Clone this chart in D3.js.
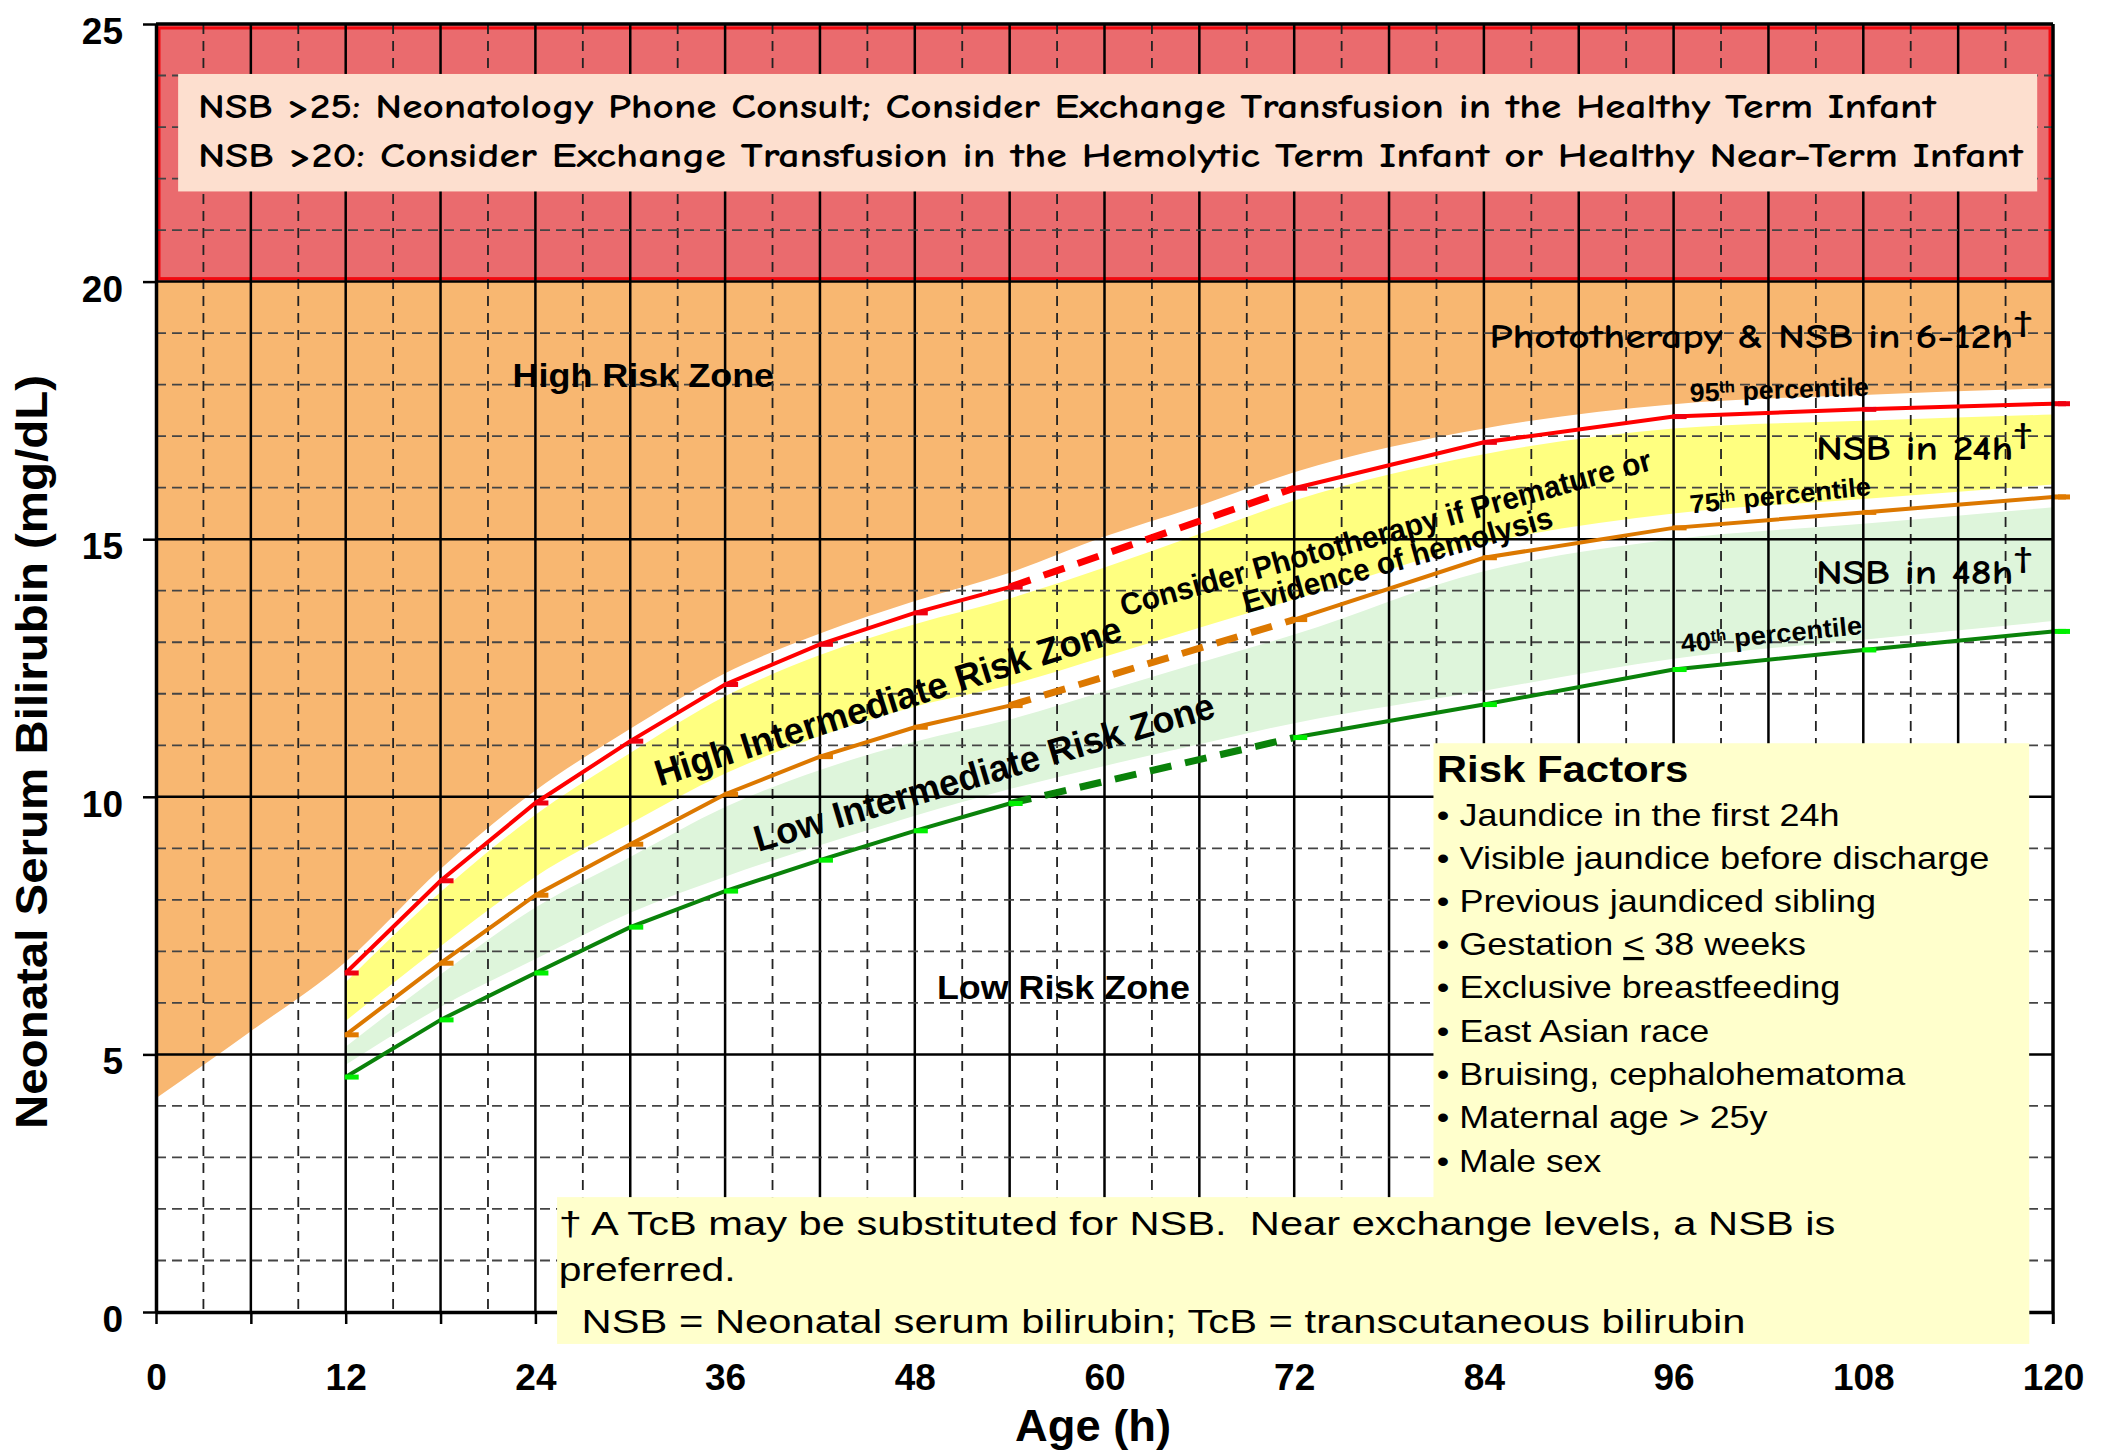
<!DOCTYPE html>
<html><head><meta charset="utf-8">
<script src="https://cdn.jsdelivr.net/npm/d3@7"></script>
<style>body{margin:0;background:#fff;}svg{display:block}text{white-space:pre}</style>
</head><body><svg id="c" width="2101" height="1453"></svg>
<script>
// ---- percentile curves (age in hours, bilirubin mg/dL) ----
const hours = [12,18,24,30,36,42,48,54,72,84,96,108,120];
const p95 = [6.58,8.37,9.88,11.08,12.18,12.96,13.57,14.07,15.99,16.88,17.38,17.52,17.63];
const p75 = [5.38,6.77,8.09,9.08,10.05,10.78,11.35,11.77,13.44,14.64,15.22,15.52,15.82];
const p40 = [4.56,5.67,6.58,7.47,8.17,8.77,9.34,9.87,11.15,11.79,12.47,12.85,13.21];
const dashedFrom = 54, dashedTo = 72;

// ---- zone boundaries ----
const hrHours  = [0,6,12,18,24,30,36,42,48,54,60,66,72,84,96,108,120];
const hrLower  = [4.15,5.45,6.8,8.6,10.12,11.32,12.4,13.17,13.8,14.35,15.05,15.65,16.3,17.15,17.62,17.8,17.93];
const zoneHours   = [12,18,24,30,36,42,48,54,60,66,72,84,96,108,120];
const yellowTop   = [6.4,8.15,9.65,10.85,11.95,12.75,13.35,13.85,14.45,15.1,15.75,16.65,17.15,17.3,17.42];
const yellowBot   = [5.65,7.1,8.45,9.48,10.45,11.18,11.75,12.17,12.72,13.28,13.83,14.92,15.5,15.78,16.06];
const greenTop    = [5.15,6.55,7.85,8.83,9.8,10.52,11.07,11.5,12.05,12.6,13.15,14.38,15.0,15.3,15.62];
const greenBot    = [4.8,5.92,6.85,7.75,8.45,9.06,9.63,10.15,10.6,11.02,11.43,12.06,12.68,13.05,13.41];
const exchangeLow = 20, exchangeHigh = 25;

// ---- ticks ----
const xTicks = [0,12,24,36,48,60,72,84,96,108,120];
const yTicks = [0,5,10,15,20,25];

// ---- texts ----
const topNotes = ["NSB >25: Neonatology Phone Consult; Consider Exchange Transfusion in the Healthy Term Infant",
                  "NSB >20: Consider Exchange Transfusion in the Hemolytic Term Infant or Healthy Near-Term Infant"];
const riskTitle = "Risk Factors";
const riskFactors = ["Jaundice in the first 24h","Visible jaundice before discharge","Previous jaundiced sibling",
  "Gestation < 38 weeks","Exclusive breastfeeding","East Asian race","Bruising, cephalohematoma","Maternal age > 25y","Male sex"];
const footnotes = ["† A TcB may be substituted for NSB.  Near exchange levels, a NSB is","preferred.",
  "NSB = Neonatal serum bilirubin; TcB = transcutaneous bilirubin"];

const svg = d3.select('#c');
const x = d3.scaleLinear().domain([0,120]).range([156,2053]);
const y = d3.scaleLinear().domain([0,25]).range([1312,24]);
const ARIAL = '"Liberation Sans", Arial, Helvetica, sans-serif';
const COMIC = '"Comic Sans MS", "Comic Neue", Lato, "Open Sans", sans-serif';

// zones
const gZ = svg.append('g');
gZ.append('rect').attr('x',x(0)).attr('y',y(exchangeHigh)).attr('width',x(120)-x(0)).attr('height',y(exchangeLow)-y(exchangeHigh))
  .attr('fill','#EA6B6E');
gZ.append('rect').attr('x',x(0)+3).attr('y',y(exchangeHigh)+4).attr('width',x(120)-x(0)-6).attr('height',y(exchangeLow)-y(exchangeHigh)-7)
  .attr('fill','none').attr('stroke','#F20A10').attr('stroke-width',3);
const hrData = hrHours.map((h,i)=>({h,v:hrLower[i]}));
gZ.append('path').datum(hrData).attr('fill','#F8B771')
  .attr('d', d3.area().x(d=>x(d.h)).y0(y(exchangeLow)).y1(d=>y(d.v)).curve(d3.curveMonotoneX));
const zoneData = (top,bot)=>zoneHours.map((h,i)=>({h,t:top[i],b:bot[i]}));
gZ.append('path').datum(zoneData(yellowTop,yellowBot)).attr('fill','#FFFF80')
  .attr('d', d3.area().x(d=>x(d.h)).y0(d=>y(d.b)).y1(d=>y(d.t)).curve(d3.curveMonotoneX));
gZ.append('path').datum(zoneData(greenTop,greenBot)).attr('fill','#DEF5DB')
  .attr('d', d3.area().x(d=>x(d.h)).y0(d=>y(d.b)).y1(d=>y(d.t)).curve(d3.curveMonotoneX));

// grid
const gG = svg.append('g');
d3.range(3,120,3).forEach(h=>{
  const solid = h%6===0;
  gG.append('line').attr('x1',x(h)).attr('x2',x(h)).attr('y1',y(25)).attr('y2',y(0))
    .attr('stroke', solid?'#000':'#222').attr('stroke-width', solid?2.5:1.8)
    .attr('stroke-dasharray', solid?null:'10,7');
});
d3.range(1,25,1).forEach(v=>{
  const solid = v%5===0;
  gG.append('line').attr('x1',x(0)).attr('x2',x(120)).attr('y1',y(v)).attr('y2',y(v))
    .attr('stroke', solid?'#000':'#444').attr('stroke-width', solid?2.5:1.8)
    .attr('stroke-dasharray', solid?null:'10,6');
});

// percentile lines
const series = [
  {vals:p95, color:'#FF0000', mark:'#F00010'},
  {vals:p75, color:'#DC7800', mark:'#E07A00'},
  {vals:p40, color:'#0A820A', mark:'#00F000'}];
const gL = svg.append('g');
const line = d3.line().x(d=>x(d.h)).y(d=>y(d.v));
series.forEach(s=>{
  const pts = hours.map((h,i)=>({h,v:s.vals[i]}));
  const a = pts.filter(d=>d.h<=dashedFrom), b = pts.filter(d=>d.h>=dashedFrom && d.h<=dashedTo), c = pts.filter(d=>d.h>=dashedTo);
  gL.append('path').datum(a).attr('d',line).attr('fill','none').attr('stroke',s.color).attr('stroke-width',4);
  gL.append('path').datum(c).attr('d',line).attr('fill','none').attr('stroke',s.color).attr('stroke-width',4);
  gL.append('path').datum(b).attr('d',line).attr('fill','none').attr('stroke',s.color).attr('stroke-width',7).attr('stroke-dasharray','22,14');
  gL.selectAll(null).data(pts).enter().append('rect')
    .attr('x',d=>x(d.h)-1).attr('y',d=>y(d.v)-2.5).attr('width',14).attr('height',5).attr('fill',s.mark);
  const last = pts[pts.length-1];
  gL.append('rect').attr('x',x(last.h)+5).attr('y',y(last.v)-2.5).attr('width',12).attr('height',5).attr('fill',s.mark);
});

// axes
const gA = svg.append('g');
const ax = gA.append('g').attr('transform',`translate(0,${y(0)})`)
  .call(d3.axisBottom(x).tickValues(d3.range(0,121,6)).tickSize(12).tickSizeOuter(0).tickFormat(d=>xTicks.includes(d)?d:''));
ax.select('.domain').attr('stroke','#000').attr('stroke-width',3.5);
ax.selectAll('.tick line').attr('stroke','#000').attr('stroke-width',2.5);
ax.selectAll('.tick text').attr('font-family',ARIAL).attr('font-weight','bold').attr('font-size',37).attr('fill','#000')
  .attr('y',0).attr('dy',null).attr('transform','translate(0,78)');
const ay = gA.append('g').attr('transform',`translate(${x(0)},0)`)
  .call(d3.axisLeft(y).tickValues(yTicks).tickSize(13).tickSizeOuter(0));
ay.select('.domain').attr('stroke','#000').attr('stroke-width',3.5);
ay.selectAll('.tick line').attr('stroke','#000').attr('stroke-width',2.5);
ay.selectAll('.tick text').attr('font-family',ARIAL).attr('font-weight','bold').attr('font-size',37).attr('fill','#000')
  .attr('x',-33).attr('dy',null).attr('y',19.5);
gA.append('line').attr('x1',x(0)).attr('x2',x(120)).attr('y1',y(25)).attr('y2',y(25)).attr('stroke','#000').attr('stroke-width',3.5);
gA.append('line').attr('x1',x(120)).attr('x2',x(120)).attr('y1',y(25)).attr('y2',y(0)).attr('stroke','#000').attr('stroke-width',3.5);
gA.append('line').attr('x1',x(120)).attr('x2',x(120)).attr('y1',y(0)).attr('y2',y(0)+12).attr('stroke','#000').attr('stroke-width',2.5);
gA.append('text').attr('x',x(54.34)).attr('y',1441).attr('font-family',ARIAL).attr('font-weight','bold').attr('font-size',44)
  .attr('textLength',156).attr('lengthAdjust','spacingAndGlyphs').text('Age (h)');
gA.append('text').attr('transform',`translate(47,${(y(0)+y(25))/2 + 84}) rotate(-90)`)
  .attr('text-anchor','middle').attr('font-family',ARIAL).attr('font-weight','bold').attr('font-size',44)
  .attr('textLength',754).attr('lengthAdjust','spacingAndGlyphs').text('Neonatal Serum Bilirubin (mg/dL)');

// boxes (drawn over grid and axis)
const gB = svg.append('g');
gB.append('rect').attr('x',x(1.4)).attr('y',y(24.03)).attr('width',x(119)-x(1.4)).attr('height',y(21.75)-y(24.03)).attr('fill','#FDDFCF');
gB.append('rect').attr('x',x(80.81)).attr('y',y(11.04)).attr('width',x(118.49)-x(80.81)).attr('height',y(2.2)-y(11.04)).attr('fill','#FFFFCC');
gB.append('rect').attr('x',x(25.37)).attr('y',y(2.23)).attr('width',x(118.5)-x(25.37)).attr('height',y(-0.62)-y(2.23)).attr('fill','#FFFFCC');

// text helper
const gT = svg.append('g');
function addText(o){
  const rot = o.rot||0;
  const t = gT.append('text')
    .attr('transform',`translate(${x(o.h)},${y(o.v)}) rotate(${rot})`)
    .attr('font-family',o.fam||ARIAL).attr('font-size',o.size).attr('font-weight',o.bold?'bold':'normal').attr('fill','#000');
  if (o.h2!==undefined){
    const len = (x(o.h2)-x(o.h))/Math.cos(rot*Math.PI/180);
    t.attr('textLength',len).attr('lengthAdjust','spacingAndGlyphs');
  }
  if (o.parts){
    o.parts.forEach(p=>{
      const ts = t.append('tspan').text(p.t);
      if (p.sup) ts.attr('font-size',p.sup).attr('baseline-shift','super');
      if (p.u) ts.style('text-decoration','underline');
    });
  } else t.text(o.text);
  return t;
}
addText({h:2.66,h2:112.6,v:23.18,size:35,bold:true,fam:COMIC,text:topNotes[0]});
addText({h:2.66,h2:118.1,v:22.22,size:35,bold:true,fam:COMIC,text:topNotes[1]});
addText({h:84.35,h2:118.7,v:18.71,size:35,bold:true,fam:COMIC,parts:[{t:'Phototherapy & NSB in 6-12h'},{t:'†',sup:28}]});
addText({h:105.0,h2:118.7,v:16.54,size:35,bold:true,fam:COMIC,parts:[{t:'NSB in 24h'},{t:'†',sup:28}]});
addText({h:105.0,h2:118.7,v:14.13,size:35,bold:true,fam:COMIC,parts:[{t:'NSB in 48h'},{t:'†',sup:28}]});
addText({h:22.55,h2:39.1,v:17.95,size:34,bold:true,text:'High Risk Zone'});
addText({h:49.4,h2:65.4,v:6.08,size:34,bold:true,text:'Low Risk Zone'});
addText({h:31.85,h2:61.24,v:10.2,size:37,bold:true,rot:-17.5,text:'High Intermediate Risk Zone'});
addText({h:38.1,h2:67.12,v:8.93,size:37,bold:true,rot:-16.4,text:'Low Intermediate Risk Zone'});
addText({h:61.2,h2:94.72,v:13.5,size:31,bold:true,rot:-15.5,text:'Consider Phototherapy if Premature or'});
addText({h:68.95,h2:88.47,v:13.56,size:31,bold:true,rot:-15.7,text:'Evidence of hemolysis'});
addText({h:97.04,h2:108.37,v:17.67,size:26,bold:true,rot:-1.9,parts:[{t:'95'},{t:'th',sup:16},{t:' percentile'}]});
addText({h:97.08,h2:108.53,v:15.50,size:26,bold:true,rot:-5.8,parts:[{t:'75'},{t:'th',sup:16},{t:' percentile'}]});
addText({h:96.51,h2:107.97,v:12.80,size:26,bold:true,rot:-5.9,parts:[{t:'40'},{t:'th',sup:16},{t:' percentile'}]});
addText({h:81.02,h2:96.93,v:10.29,size:37,bold:true,text:riskTitle});
const rfBase = [9.43,8.59,7.76,6.93,6.10,5.25,4.41,3.57,2.72];
const rfEnd = [106.49,115.97,108.81,104.38,106.55,98.26,110.65,101.94,91.42];
riskFactors.forEach((r,i)=>{
  if (r.includes('<')){
    const [a,b] = r.split('<');
    addText({h:81.02,h2:rfEnd[i],v:rfBase[i],size:32,parts:[{t:'• '+a},{t:'<',u:true},{t:b}]});
  } else addText({h:81.02,h2:rfEnd[i],v:rfBase[i],size:32,text:'• '+r});
});
addText({h:25.47,h2:106.23,v:1.49,size:33,text:footnotes[0]});
addText({h:25.47,h2:36.67,v:0.60,size:33,text:footnotes[1]});
addText({h:26.92,h2:100.54,v:-0.41,size:33,text:footnotes[2]});
</script></body></html>
